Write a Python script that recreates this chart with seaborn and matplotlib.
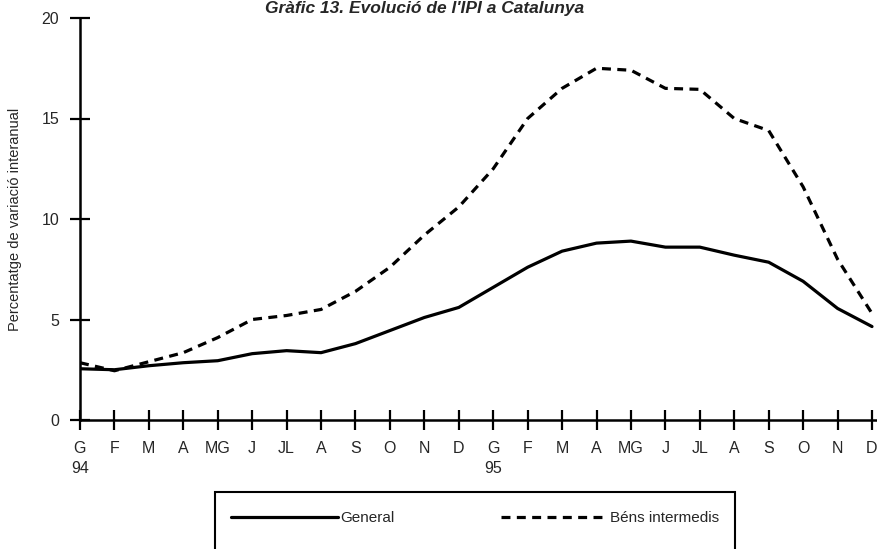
import pandas as pd
import numpy as np
import matplotlib
matplotlib.use("Agg")
import matplotlib.pyplot as plt
from matplotlib.patches import Rectangle
from matplotlib.lines import Line2D
import seaborn as sns

# month labels as printed (catalan initials), two years
months = ["G", "F", "M", "A", "MG", "J", "JL", "A", "S", "O", "N", "D"]
years = ["94", "95"]
tick_labels = [m + ("\n" + years[k] if i == 0 else "")
               for k in range(2) for i, m in enumerate(months)]

general = [2.55, 2.5, 2.7, 2.85, 2.95, 3.3, 3.45, 3.35, 3.8, 4.45, 5.1, 5.6,
           6.6, 7.6, 8.4, 8.8, 8.9, 8.6, 8.6, 8.2, 7.85, 6.9, 5.55, 4.65]
bens_intermedis = [2.85, 2.45, 2.9, 3.35, 4.1, 5.0, 5.2, 5.5, 6.4, 7.6, 9.2, 10.6,
                   12.5, 15.0, 16.5, 17.5, 17.4, 16.5, 16.45, 15.0, 14.4, 11.6, 8.0, 5.3]

df = pd.DataFrame({
    "mes": list(range(24)) * 2,
    "valor": general + bens_intermedis,
    "serie": ["General"] * 24 + ["Béns intermedis"] * 24,
})

sns.set_style("white")
plt.rcParams["font.family"] = ["Liberation Sans", "DejaVu Sans"]

W, H = 877, 549
fig = plt.figure(figsize=(W / 100, H / 100), dpi=100)
ax = fig.add_axes([80 / W, 1 - 420 / H, 797 / W, 402 / H])

dash = (2.8, 2.0)
sns.lineplot(data=df, x="mes", y="valor", style="serie", color="black",
             dashes={"General": "", "Béns intermedis": dash},
             linewidth=2.3, legend=False, ax=ax)

ax.set_xlim(0, 23 + 5 / 34.43)
ax.set_ylim(0, 20)
ax.set_xticks(range(24))
ax.set_xticklabels(tick_labels, fontsize=11.5, linespacing=1.4, va="top")
ax.set_yticks([0, 5, 10, 15, 20])
ax.set_yticklabels(["0", "5", "10", "15", "20"], fontsize=11.5)
ax.tick_params(axis="both", direction="inout", length=14, width=1.6, color="black",
               bottom=True, left=True)
ax.tick_params(axis="x", pad=8)
ax.tick_params(axis="y", pad=8)
ax.set_xlabel("")
ax.set_ylabel("Percentatge de variació interanual", fontsize=10.5, labelpad=14)
for s in ["top", "right"]:
    ax.spines[s].set_visible(False)
for s in ["left", "bottom"]:
    ax.spines[s].set_linewidth(1.8)
    ax.spines[s].set_color("black")
ax.patch.set_alpha(0)

fig.text(425 / W, 1 - 1 / H, "Gràfic 13. Evolució de l'IPI a Catalunya",
         ha="center", va="top", fontsize=12.5, fontweight="bold", style="italic")

# legend box, cut by the bottom edge like the reference
box = Rectangle((215 / W, -0.05), 520 / W, 0.05 + 57 / H, transform=fig.transFigure,
                fill=False, edgecolor="black", linewidth=1.5)
fig.patches.append(box)
handles = [Line2D([], [], color="black", lw=2.3),
           Line2D([], [], color="black", lw=2.3, dashes=dash)]
fig.legend(handles, ["General", "Béns intermedis"], loc="center",
           bbox_to_anchor=(475 / W, 1 - 518 / H), ncol=2, frameon=False,
           fontsize=11, handlelength=7.0, handletextpad=0.1, columnspacing=7.0)

fig.savefig("out.png", dpi=100)
